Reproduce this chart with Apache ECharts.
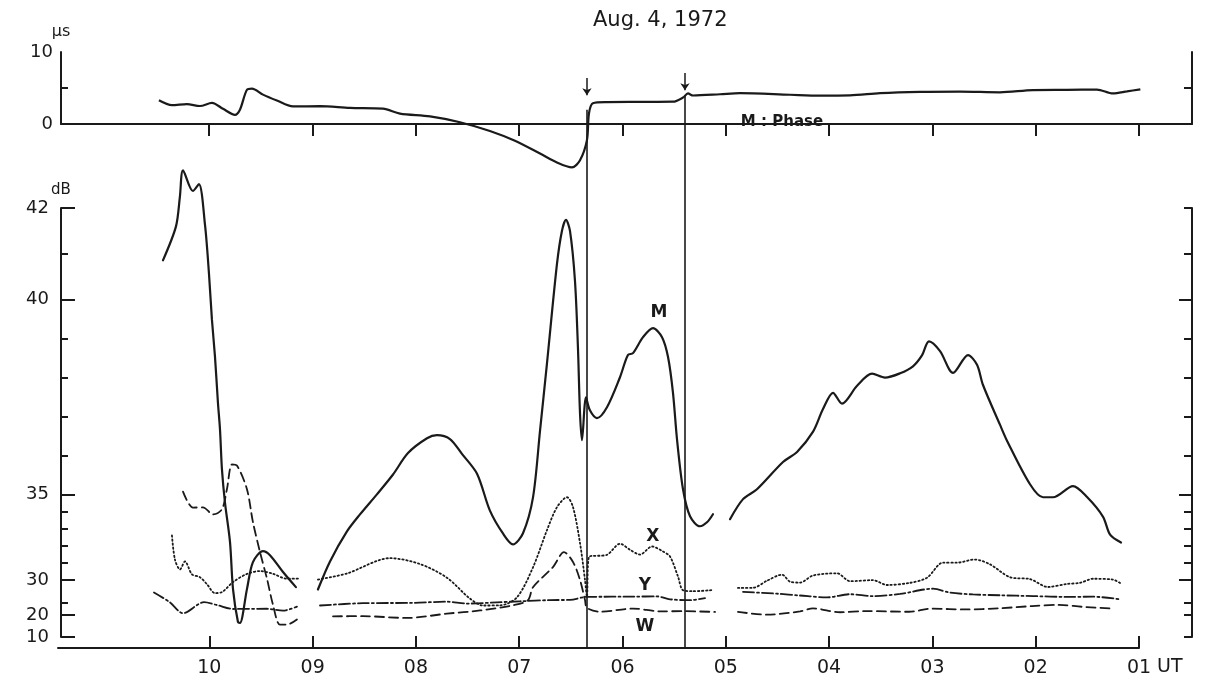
<!DOCTYPE html>
<html><head><meta charset="utf-8">
<script src="https://cdn.jsdelivr.net/npm/echarts@6/dist/echarts.min.js"></script>
<style>html,body{margin:0;padding:0;background:#fff;}#c{width:1211px;height:684px;}</style>
</head><body><div id="c"></div>
<script>
// ---------- tick labels / scale anchors ----------
const HOURS = [1,2,3,4,5,6,7,8,9,10];
const US_TICK_LABELS = [0,10];
const DB_TICK_LABELS = [10,20,30,35,40,42];
const DB_AXIS_POS = [0,22,57,143,338,430];      // non-linear dB scale anchors (axis units)
const DB_MINOR_LEFT = [23.5,31,32,33,34,36,37,38,39,41];
const DB_MAJOR_RIGHT = [30,35,40];
const DB_MINOR_RIGHT = [10,20,23.5,31,32,33,34,36,37,38,39,41,42];
const EVENT_UT = [6.344, 5.395];

// ---------- data: [UT hour, value] ----------
const PHASE = [[10.487,3.29],[10.361,2.61],[10.216,2.76],[10.090,2.5],[9.974,2.93],[9.867,2.11],[9.751,1.28],[9.703,1.99],[9.635,4.76],[9.587,4.92],[9.480,4.08],[9.345,3.26],[9.190,2.44],[8.928,2.47],[8.638,2.24],[8.318,2.13],[8.154,1.44],[7.863,1.06],[7.573,0.25],[7.283,-0.97],[7.041,-2.33],[6.798,-4.11],[6.634,-5.35],[6.489,-6.03],[6.411,-5.04],[6.344,-2.26],[6.324,1.49],[6.286,2.89],[6.150,3.04],[5.830,3.07],[5.511,3.1],[5.414,3.67],[5.366,4.24],[5.317,3.96],[5.056,4.13],[4.863,4.28],[4.378,4.06],[4.088,3.94],[3.798,3.97],[3.507,4.28],[3.120,4.46],[2.733,4.5],[2.346,4.4],[2.026,4.71],[1.697,4.74],[1.407,4.78],[1.252,4.24],[1.116,4.53],[0.987,4.82]];

const M1 = [[10.448,40.86],[10.322,41.60],[10.284,42.25],[10.254,42.82],[10.158,42.37],[10.100,42.52],[10.041,41.63],[10.003,40.58],[9.974,39.49],[9.945,38.56],[9.916,37.36],[9.896,36.67],[9.877,35.64],[9.848,34.53],[9.799,32.21],[9.770,27.43],[9.722,16.8],[9.703,16.4],[9.635,27.43],[9.577,31.05],[9.480,31.69],[9.412,31.45],[9.286,30.47],[9.161,28.0]];
const M2 = [[8.948,27.31],[8.831,31.09],[8.667,32.84],[8.541,33.83],[8.377,35.0],[8.221,35.51],[8.076,36.06],[7.892,36.44],[7.796,36.52],[7.670,36.42],[7.554,36.04],[7.408,35.53],[7.283,34.05],[7.157,32.72],[7.060,32.08],[6.963,32.73],[6.866,34.82],[6.798,36.64],[6.731,38.36],[6.634,40.78],[6.586,41.5],[6.547,41.74],[6.508,41.5],[6.460,40.42],[6.431,38.77],[6.411,37.08],[6.392,36.39],[6.353,37.49],[6.315,37.16],[6.247,36.96],[6.150,37.24],[6.024,38.01],[5.947,38.58],[5.898,38.63],[5.801,39.04],[5.704,39.27],[5.617,39.04],[5.559,38.53],[5.511,37.61],[5.472,36.41],[5.414,35.13],[5.346,33.72],[5.250,33.14],[5.182,33.37],[5.124,33.84]];
const M3 = [[4.959,33.55],[4.833,34.72],[4.698,35.13],[4.446,35.83],[4.310,36.09],[4.155,36.61],[4.059,37.19],[3.962,37.61],[3.875,37.33],[3.729,37.79],[3.584,38.10],[3.459,38.0],[3.313,38.11],[3.188,38.29],[3.101,38.57],[3.033,38.93],[2.926,38.68],[2.800,38.12],[2.655,38.58],[2.568,38.33],[2.510,37.81],[2.346,36.79],[2.278,36.38],[2.055,35.26],[1.929,34.83],[1.833,34.83],[1.639,35.21],[1.503,34.84],[1.348,33.69],[1.280,32.65],[1.174,32.19]];

const X1 = [[10.361,32.60],[10.332,31.20],[10.283,30.62],[10.235,31.09],[10.167,30.34],[10.090,30.17],[10.022,28.83],[9.945,26.29],[9.877,26.57],[9.770,29.46],[9.635,30.36],[9.509,30.53],[9.383,30.37],[9.248,30.08],[9.141,30.09]];
const X2 = [[8.948,30.03],[8.667,30.39],[8.251,31.28],[7.960,30.94],[7.699,30.14],[7.476,24.71],[7.350,22.74],[7.186,22.77],[7.021,25.09],[6.866,30.75],[6.731,32.91],[6.634,34.25],[6.537,34.83],[6.479,34.26],[6.411,32.16],[6.363,30.02],[6.344,25.23],[6.324,31.35],[6.150,31.48],[6.024,32.12],[5.927,31.77],[5.830,31.49],[5.714,31.96],[5.608,31.67],[5.540,31.38],[5.463,30.22],[5.414,27.11],[5.317,26.83],[5.134,27.14]];
const X3 = [[4.882,27.77],[4.737,27.8],[4.601,29.83],[4.456,30.32],[4.378,29.57],[4.281,29.31],[4.155,30.27],[3.923,30.40],[3.797,29.69],[3.575,30.0],[3.439,28.6],[3.216,29.23],[3.052,30.14],[2.897,31.02],[2.762,31.02],[2.588,31.2],[2.442,30.92],[2.248,30.17],[2.055,30.06],[1.880,28.03],[1.697,28.91],[1.571,29.23],[1.445,30.08],[1.252,30.03],[1.174,28.99]];

const Y1 = [[10.535,26.46],[10.380,23.63],[10.254,20.51],[10.051,23.69],[9.925,22.86],[9.770,21.74],[9.441,21.8],[9.286,21.26],[9.151,22.43]];
const Y2 = [[8.928,22.74],[8.512,23.4],[8.028,23.49],[7.699,23.83],[7.505,23.29],[7.215,23.63],[6.992,23.94],[6.702,24.29],[6.508,24.34],[6.344,25.23],[6.315,25.23],[5.898,25.29],[5.666,25.34],[5.540,24.51],[5.337,24.26],[5.201,24.86]];
const Y3 = [[4.833,26.63],[4.504,26.11],[4.281,25.6],[4.020,25.06],[3.797,25.97],[3.575,25.43],[3.313,26.06],[2.994,27.54],[2.829,26.43],[2.607,25.91],[2.346,25.66],[2.026,25.43],[1.697,25.2],[1.445,25.26],[1.174,24.46]];

const W1 = [[10.254,35.07],[10.158,34.23],[10.061,34.24],[9.964,33.83],[9.877,34.13],[9.829,35.13],[9.780,35.77],[9.732,35.74],[9.635,35.13],[9.577,33.38],[9.509,31.64],[9.441,30.08],[9.383,22.94],[9.316,15.64],[9.248,15.64],[9.151,17.95]];
const W2 = [[8.802,19.41],[8.512,19.5],[8.086,18.68],[7.699,20.4],[7.379,21.31],[7.060,22.8],[6.915,24.26],[6.866,27.97],[6.673,30.76],[6.566,31.63],[6.479,31.06],[6.411,30.01],[6.363,24.34],[6.344,22.09],[6.218,20.94],[5.898,21.86],[5.637,21.06],[5.414,21.11],[5.104,20.89]];
const W3 = [[4.882,20.91],[4.601,20.11],[4.281,21.03],[4.156,21.91],[3.894,20.8],[3.643,21.14],[3.226,20.94],[3.004,21.83],[2.675,21.6],[2.355,21.94],[2.035,22.57],[1.774,22.91],[1.552,22.37],[1.252,21.86]];

// curve labels: [UT, dB]
const LABEL_M = [5.648, 39.67];
const LABEL_X = [5.706, 32.53];
const LABEL_Y = [5.784, 28.57];
const LABEL_W = [5.784, 14.55];
const LABEL_PHASE = [4.456, 0.28];

// ---------- helpers ----------
function toAxis(db){
  const a = DB_TICK_LABELS, p = DB_AXIS_POS;
  let i = 0;
  while (i < a.length - 2 && db > a[i+1]) i++;
  return p[i] + (db - a[i]) * (p[i+1] - p[i]) / (a[i+1] - a[i]);
}
const conv = seg => seg.map(d => [d[0], toAxis(d[1])]);
const INK = '#1a1a1a';
const FONT = 'DejaVu Sans';
const UT_MIN = 0.487, UT_MAX = 11.435;

function txtPoint(coord, text, size, weight){
  return {
    symbol:'rect', symbolSize:1, itemStyle:{color:'rgba(0,0,0,0)'}, silent:true,
    label:{show:true, position:'inside', color:INK, fontFamily:FONT, fontSize:size, fontWeight:weight},
    data:[{coord:coord, value:text, label:{formatter:text}}]
  };
}
function curve(seg, type, width, extra){
  return Object.assign({
    type:'line', xAxisIndex:1, yAxisIndex:4, data:conv(seg), showSymbol:false, symbol:'none',
    smooth:0.3, clip:false, silent:true, animation:false,
    lineStyle:{color:INK, width:width, type:type, cap:'round'}
  }, extra || {});
}
const DOT = [1.4,2.6], DASHDOT = [11,3,2,3], DASH = [9,5];

const axLine = {show:true, lineStyle:{color:INK, width:2}};
const noSplit = {show:false};
const tickStyle = {color:INK, width:2};
const lblStyle = {color:INK, fontFamily:FONT, fontSize:18};

const option = {
  animation:false,
  backgroundColor:'#ffffff',
  title:{text:'Aug. 4, 1972', left:588, top:5, textStyle:{fontSize:21, fontWeight:'normal', color:INK, fontFamily:FONT}},
  grid:[
    {left:61, right:19, top:52, height:72, outerBoundsMode:'none'},
    {left:61, right:19, top:208, bottom:47, outerBoundsMode:'none'},
    {left:58, right:72, top:600, bottom:36, outerBoundsMode:'none'},
    {left:61, right:19, top:93, bottom:36, outerBoundsMode:'none'}
  ],
  xAxis:[
    {gridIndex:0, type:'value', position:'top', min:UT_MIN, max:UT_MAX, inverse:true, axisLine:axLine,
     axisTick:{show:true, inside:true, length:12, customValues:HOURS, lineStyle:tickStyle}, axisLabel:{show:false}, splitLine:noSplit},
    {gridIndex:1, type:'value', min:UT_MIN, max:UT_MAX, inverse:true, show:false},
    {gridIndex:2, type:'value', position:'bottom', min:1, max:11.465, inverse:true, axisLine:axLine,
     axisTick:{show:true, inside:true, length:12, customValues:HOURS, lineStyle:tickStyle},
     axisLabel:{show:true, customValues:HOURS, margin:11, fontSize:19, color:INK, fontFamily:FONT,
       formatter:v => (v < 10 ? '0' : '') + Math.round(v)},
     splitLine:noSplit},
    {gridIndex:3, type:'value', min:UT_MIN, max:UT_MAX, inverse:true, show:false}
  ],
  yAxis:[
    {gridIndex:0, type:'value', position:'left', min:0, max:10, name:'μs', nameLocation:'end', nameGap:12,
     nameTextStyle:{color:INK, fontFamily:FONT, fontSize:16, align:'center'},
     axisLine:axLine, axisTick:{show:true, inside:true, length:13, customValues:[0], lineStyle:tickStyle},
     axisLabel:Object.assign({show:true, customValues:US_TICK_LABELS, margin:8}, lblStyle), splitLine:noSplit},
    {gridIndex:0, type:'value', position:'left', min:0, max:10, axisLine:{show:false},
     axisTick:{show:true, inside:true, length:7, customValues:[5], lineStyle:tickStyle}, axisLabel:{show:false}, splitLine:noSplit},
    {gridIndex:0, type:'value', position:'right', min:0, max:10, axisLine:axLine,
     axisTick:{show:true, inside:true, length:15, customValues:[0], lineStyle:tickStyle}, axisLabel:{show:false}, splitLine:noSplit},
    {gridIndex:0, type:'value', position:'right', min:0, max:10, axisLine:{show:false},
     axisTick:{show:true, inside:true, length:8, customValues:[5], lineStyle:tickStyle}, axisLabel:{show:false}, splitLine:noSplit},

    {gridIndex:1, type:'value', position:'left', min:0, max:430, name:'dB', nameLocation:'end', nameGap:10,
     nameTextStyle:{color:INK, fontFamily:FONT, fontSize:15, align:'center'},
     axisLine:axLine, axisTick:{show:true, inside:true, length:14, customValues:DB_TICK_LABELS.map(toAxis), lineStyle:tickStyle},
     axisLabel:Object.assign({show:true, customValues:DB_TICK_LABELS.map(toAxis), margin:12,
       formatter:v => { let best = 0; DB_AXIS_POS.forEach((p,i) => { if (Math.abs(p - v) < Math.abs(DB_AXIS_POS[best] - v)) best = i; }); return String(DB_TICK_LABELS[best]); }}, lblStyle),
     splitLine:noSplit},
    {gridIndex:1, type:'value', position:'left', min:0, max:430, axisLine:{show:false},
     axisTick:{show:true, inside:true, length:7, customValues:DB_MINOR_LEFT.map(toAxis), lineStyle:tickStyle}, axisLabel:{show:false}, splitLine:noSplit},
    {gridIndex:1, type:'value', position:'right', min:0, max:430, axisLine:axLine,
     axisTick:{show:true, inside:true, length:13, customValues:DB_MAJOR_RIGHT.map(toAxis), lineStyle:tickStyle}, axisLabel:{show:false}, splitLine:noSplit},
    {gridIndex:1, type:'value', position:'right', min:0, max:430, axisLine:{show:false},
     axisTick:{show:true, inside:true, length:8, customValues:DB_MINOR_RIGHT.map(toAxis), lineStyle:tickStyle}, axisLabel:{show:false}, splitLine:noSplit},

    {gridIndex:2, type:'value', min:0, max:1, show:false},
    {gridIndex:3, type:'value', min:0, max:1, show:false}
  ],
  graphic:[
    {type:'text', left:1157, top:658, style:{text:'UT', fill:INK, font:'19px "DejaVu Sans"'}}
  ],
  series:[
    {type:'line', xAxisIndex:0, yAxisIndex:0, data:PHASE, showSymbol:false, symbol:'none', smooth:0.3, clip:false, silent:true,
     lineStyle:{color:INK, width:2.2}, markPoint:txtPoint(LABEL_PHASE, 'M : Phase', 15, 'bold')},
    {type:'lines', coordinateSystem:'cartesian2d', xAxisIndex:0, yAxisIndex:0, silent:true,
     symbol:['none','arrow'], symbolSize:7, lineStyle:{color:INK, width:1.5, opacity:1},
     data:[{coords:[[EVENT_UT[0],6.4],[EVENT_UT[0],4.0]]},{coords:[[EVENT_UT[1],7.1],[EVENT_UT[1],4.7]]}]},
    {type:'lines', coordinateSystem:'cartesian2d', xAxisIndex:3, yAxisIndex:9, silent:true,
     lineStyle:{color:INK, width:1.6, opacity:1},
     data:[{coords:[[EVENT_UT[0],0],[EVENT_UT[0],0.97]]},{coords:[[EVENT_UT[1],0],[EVENT_UT[1],0.996]]}]},

    curve(M1, 'solid', 2.2),
    curve(M2, 'solid', 2.2, {markPoint:txtPoint([LABEL_M[0], toAxis(LABEL_M[1])], 'M', 17, 'bold')}),
    curve(M3, 'solid', 2.2),
    curve(X1, DOT, 1.8),
    curve(X2, DOT, 1.8, {markPoint:txtPoint([LABEL_X[0], toAxis(LABEL_X[1])], 'X', 17, 'bold')}),
    curve(X3, DOT, 1.8),
    curve(Y1, DASHDOT, 1.8),
    curve(Y2, DASHDOT, 1.8, {markPoint:txtPoint([LABEL_Y[0], toAxis(LABEL_Y[1])], 'Y', 17, 'bold')}),
    curve(Y3, DASHDOT, 1.8),
    curve(W1, DASH, 1.8),
    curve(W2, DASH, 1.8, {markPoint:txtPoint([LABEL_W[0], toAxis(LABEL_W[1])], 'W', 17, 'bold')}),
    curve(W3, DASH, 1.8)
  ]
};
const chart = echarts.init(document.getElementById('c'));
chart.setOption(option);
</script>
</body></html>
